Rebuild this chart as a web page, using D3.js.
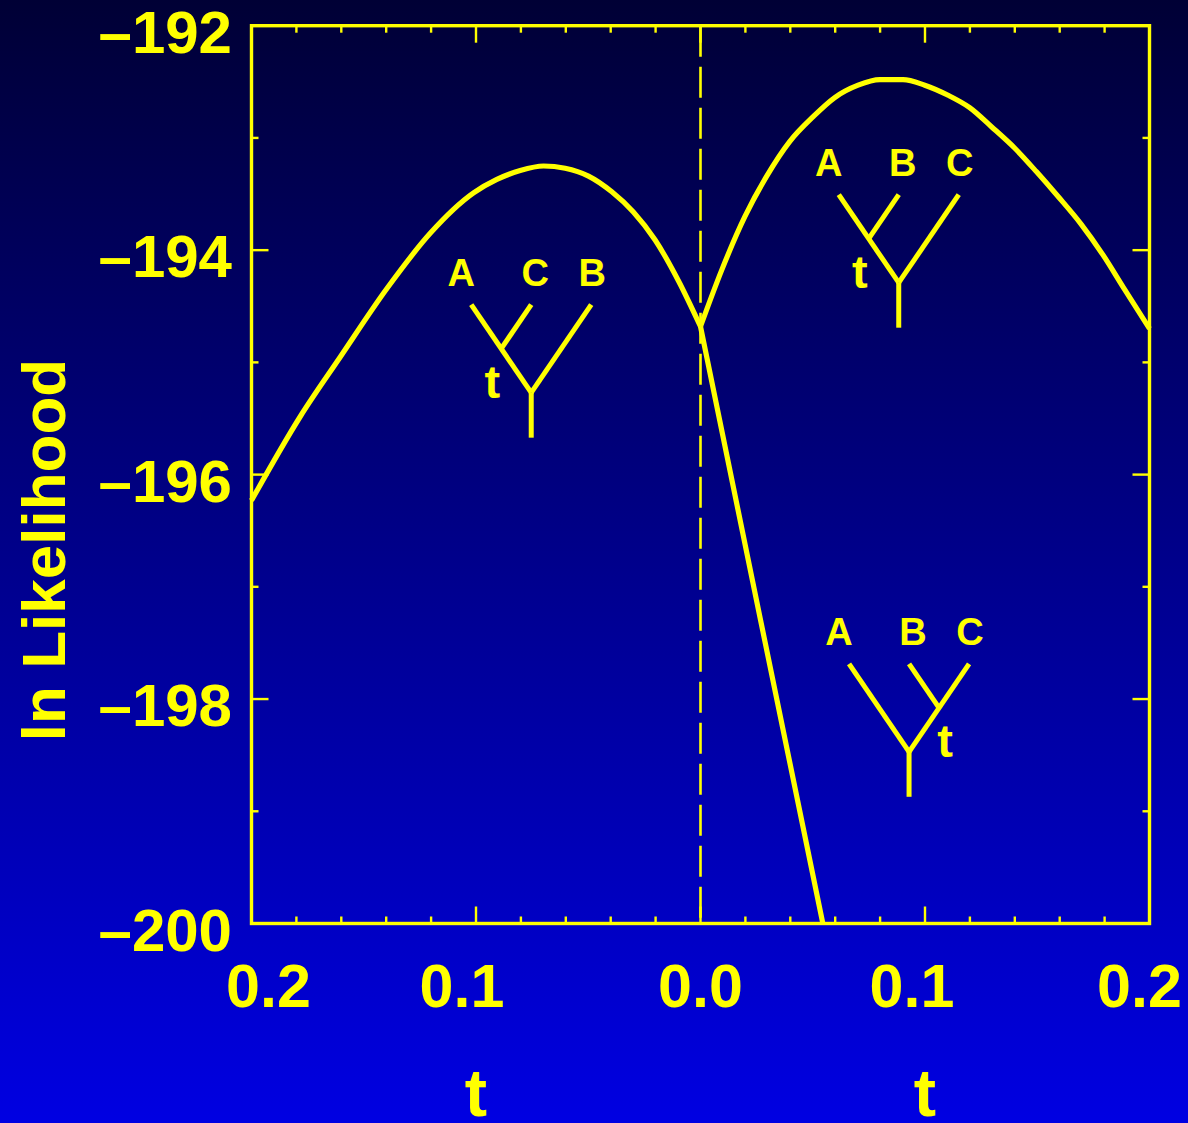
<!DOCTYPE html>
<html>
<head>
  <meta charset="utf-8">
  <title>ln Likelihood vs t</title>
  <script src="https://d3js.org/d3.v7.min.js"></script>
  <style>
    body {
      margin: 0;
      overflow: hidden;
    }
    text {
      font-family: "Liberation Sans", Arial, sans-serif;
      font-weight: bold;
      fill: #ffff00;
    }
  </style>
</head>
<body>
  <div id="chart"></div>

  <script>
    // t is signed here: left half is the A(CB) tree, right half A(BC) trees
    var leftT   = [-0.2, -0.1782, -0.1604, -0.1396, -0.1204, -0.1011, -0.0907, -0.0803, -0.0699, -0.0603, -0.0499, -0.0395, -0.0299, -0.0202, -0.0099, 0];
    var leftLnL = [-196.23, -195.48, -194.95, -194.34, -193.85, -193.49, -193.37, -193.29, -193.25, -193.27, -193.34, -193.48, -193.66, -193.91, -194.27, -194.68];

    var rightT   = [0, 0.0094, 0.0198, 0.0295, 0.0398, 0.0502, 0.0598, 0.0702, 0.0799, 0.0902, 0.0999, 0.1103, 0.1199, 0.1296, 0.1399, 0.1496, 0.1592, 0.1696, 0.1792, 0.1889, 0.2];
    var rightLnL = [-194.68, -194.18, -193.70, -193.34, -193.03, -192.81, -192.64, -192.53, -192.48, -192.48, -192.53, -192.62, -192.73, -192.90, -193.09, -193.30, -193.52, -193.77, -194.04, -194.35, -194.70];

    var dropT   = [0, 0.0272, 0.0545];
    var dropLnL = [-194.68, -197.34, -200];

    var xTicks = [-0.2, -0.1, 0, 0.1, 0.2];
    var yTicks = [-200, -198, -196, -194, -192];
    var xTitles = [-0.1, 0.1];

    // tree annotations, anchored at the root of each tree
    var treeRootT   = [-0.0754, 0.0883, 0.0929];
    var treeRootLnL = [-195.27, -194.29, -198.47];
    var treeLeaves  = [["A", "C", "B"], ["A", "B", "C"], ["A", "B", "C"]];
    var treeJoin    = ["left", "left", "right"];

    var width = 1188, height = 1123;
    var yellow = "#ffff00";

    var svg = d3.select("#chart")
      .append("svg")
      .attr("width", width)
      .attr("height", height);

    var grad = svg.append("defs").append("linearGradient")
      .attr("id", "bg")
      .attr("x1", 0).attr("y1", 0).attr("x2", 0).attr("y2", 1);
    grad.append("stop").attr("offset", "0%").attr("stop-color", "#000035");
    grad.append("stop").attr("offset", "100%").attr("stop-color", "#0000e2");

    svg.append("rect")
      .attr("width", width)
      .attr("height", height)
      .attr("fill", "url(#bg)");

    var x = d3.scaleLinear().domain([-0.2, 0.2]).range([251.5, 1149.5]);
    var y = d3.scaleLinear().domain([-200, -192]).range([923.5, 25.7]);

    // ticks: minor every 0.02 / 1, major every 0.1 / 2, on all four sides pointing in
    var xMinor = d3.range(-0.18, 0.19, 0.02);
    var yMinor = d3.range(-199, -192, 1);
    var ticks = svg.append("g")
      .attr("stroke", yellow)
      .attr("stroke-width", 2.4);

    xMinor.forEach(function(v) {
      var major = Math.abs(Math.round(v * 100)) % 10 === 0;
      var len = major ? 17 : 7;
      ticks.append("line")
        .attr("x1", x(v)).attr("x2", x(v))
        .attr("y1", y(-200)).attr("y2", y(-200) - len);
      ticks.append("line")
        .attr("x1", x(v)).attr("x2", x(v))
        .attr("y1", y(-192)).attr("y2", y(-192) + len);
    });

    yMinor.forEach(function(v) {
      var major = Math.round(v) % 2 === 0;
      var len = major ? 17 : 7;
      ticks.append("line")
        .attr("y1", y(v)).attr("y2", y(v))
        .attr("x1", x(-0.2)).attr("x2", x(-0.2) + len);
      ticks.append("line")
        .attr("y1", y(v)).attr("y2", y(v))
        .attr("x1", x(0.2)).attr("x2", x(0.2) - len);
    });

    // dashed line at t = 0
    svg.append("line")
      .attr("x1", x(0)).attr("x2", x(0))
      .attr("y1", y(-192)).attr("y2", y(-200))
      .attr("stroke", yellow)
      .attr("stroke-width", 2.6)
      .attr("stroke-dasharray", "31,10");

    // frame
    svg.append("rect")
      .attr("x", x(-0.2))
      .attr("y", y(-192))
      .attr("width", x(0.2) - x(-0.2))
      .attr("height", y(-200) - y(-192))
      .attr("fill", "none")
      .attr("stroke", yellow)
      .attr("stroke-width", 3.4);

    // curves
    var arc = d3.line()
      .curve(d3.curveMonotoneX)
      .x(function(d) { return x(d[0]); })
      .y(function(d) { return y(d[1]); });

    var series = [d3.zip(leftT, leftLnL), d3.zip(rightT, rightLnL), d3.zip(dropT, dropLnL)];
    svg.selectAll("path.curve")
      .data(series)
      .enter()
      .append("path")
      .attr("class", "curve")
      .attr("d", arc)
      .attr("fill", "none")
      .attr("stroke", yellow)
      .attr("stroke-width", 5.2)
      .attr("stroke-linejoin", "round");

    // y tick labels
    svg.selectAll("text.ylab")
      .data(yTicks)
      .enter()
      .append("text")
      .attr("class", "ylab")
      .attr("x", 232)
      .attr("y", function(d) { return y(d) + 27; })
      .attr("text-anchor", "end")
      .style("font-size", "60px")
      .text(function(d) { return "\u2013" + Math.abs(d); });

    // x tick labels (distance from 0 on each side)
    var xLabelShift = [17, -14, 0, -13, -10];
    svg.selectAll("text.xlab")
      .data(xTicks)
      .enter()
      .append("text")
      .attr("class", "xlab")
      .attr("x", function(d, i) { return x(d) + xLabelShift[i]; })
      .attr("y", 1007)
      .attr("text-anchor", "middle")
      .style("font-size", "61px")
      .text(function(d) { return d3.format(".1f")(Math.abs(d)); });

    // axis titles
    svg.selectAll("text.xtitle")
      .data(xTitles)
      .enter()
      .append("text")
      .attr("class", "xtitle")
      .attr("x", function(d) { return x(d); })
      .attr("y", 1116)
      .attr("text-anchor", "middle")
      .style("font-size", "67px")
      .text("t");

    svg.append("text")
      .attr("transform", "translate(65,550) rotate(-90)")
      .attr("text-anchor", "middle")
      .style("font-size", "62px")
      .text("ln Likelihood");

    // little trees
    treeRootT.forEach(function(t, i) {
      var rx = x(t), ry = y(treeRootLnL[i]);
      var g = svg.append("g");
      var top = ry - 88;
      var jx = treeJoin[i] === "left" ? rx - 30 : rx + 30;
      var segs = [
        [rx - 60, top, rx, ry],
        [rx + 60, top, rx, ry],
        [rx, top, jx, ry - 44],
        [rx, ry, rx, ry + 45]
      ];
      g.selectAll("line")
        .data(segs)
        .enter()
        .append("line")
        .attr("x1", function(d) { return d[0]; })
        .attr("y1", function(d) { return d[1]; })
        .attr("x2", function(d) { return d[2]; })
        .attr("y2", function(d) { return d[3]; })
        .attr("stroke", yellow)
        .attr("stroke-width", 5);

      var lx = [rx - 70, rx + 4, rx + 61];
      g.selectAll("text.leaf")
        .data(treeLeaves[i])
        .enter()
        .append("text")
        .attr("class", "leaf")
        .attr("x", function(d, k) { return lx[k]; })
        .attr("y", top - 19)
        .attr("text-anchor", "middle")
        .style("font-size", "38px")
        .text(function(d) { return d; });

      g.append("text")
        .attr("x", treeJoin[i] === "left" ? rx - 39 : rx + 36)
        .attr("y", ry + 5)
        .attr("text-anchor", "middle")
        .style("font-size", "47px")
        .text("t");
    });
  </script>
</body>
</html>
